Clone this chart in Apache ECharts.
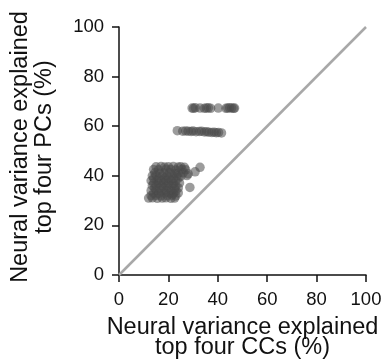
<!DOCTYPE html>
<html>
<head>
<meta charset="utf-8">
<script src="https://cdn.jsdelivr.net/npm/echarts@6/dist/echarts.min.js"></script>
<style>html,body{margin:0;padding:0;background:#fff}#c{width:383px;height:363px}</style>
</head>
<body>
<div id="c"></div>
<script>
// Axis ticks
var xTicks = [0, 20, 40, 60, 80, 100];
var yTicks = [0, 20, 40, 60, 80, 100];
var xName = 'Neural variance explained\ntop four CCs (%)';
var yName = 'Neural variance explained\ntop four PCs (%)';

// Main cluster (CC %, PC %)
var clusterX = [15,17,18.5,20,22,24,25,26.5, 14,16,19,21,23,25.5,27, 14.5,16.5,18,20.5,22.5,24,26,28,30.8,
  13.5,15,17.5,19.5,21.5,23.5,25,27.5, 14,16,18.5,20,22,24, 13,15.5,17,19,21,23,
  14,16,18,20,22,24.5, 13.5,15,17.5,19.5,21.5,23, 14.5,16.5,18,20,22.5,24,
  13,15,17,19,21,23, 14,16,18.5,20.5,22,24, 13,15,17,19.5,21.5,23,
  12,13.5,15.5,17.5,19,21,22.5, 32.8,28.7];
var clusterY = [43.6,43.7,43.5,43.6,43.7,43.5,43.6,43.4, 42.5,42.4,42.6,42.5,42.3,42.5,42.4, 41.2,41,41.1,41.2,40.9,41,41.2,40.8,41.6,
  40,40.1,39.9,40,40.2,40,39.8,40.1, 39,38.9,39.1,39,38.8,39.1, 38,38.1,37.9,38,38.2,37.9,
  37,36.9,37.1,37,36.8,37.1, 36,36.1,35.9,36,36.2,35.9, 35,34.9,35.1,35,34.8,35.1,
  34,34.1,33.9,34,34.2,33.9, 33,32.9,33.1,33,32.8,33.1, 32,32.1,31.9,32,32.2,31.9,
  31,31.1,30.9,31,31.1,30.9,31, 43.4,35.3];

// Row near 58 %
var rowMidX = [23.6,25.8,27.0,28.0,29.2,30.0,31.2,32.5,33.4,34.6,35.5,36.4,37.6,38.5,39.4,40.3,41.5];
var rowMidY = [58.2,58.0,58.1,58.0,57.9,58.1,57.8,57.9,58.0,57.7,57.8,57.6,57.5,57.6,57.4,57.5,57.3];

// Row near 67 %
var rowTopX = [29.6,30.2,30.9,32.8,34.6,35.4,36.2,37.1,40.2,43.3,44.0,44.8,45.6,46.4,46.8];
var rowTopY = [67.3,67.2,67.4,67.3,67.2,67.3,67.4,67.2,67.3,67.2,67.3,67.4,67.3,67.2,67.3];

// Identity line
var diagX = [0, 100];
var diagY = [0, 100];

function pairs(xs, ys){ return xs.map(function(v,i){ return [v, ys[i]]; }); }
var points = pairs(clusterX, clusterY).concat(pairs(rowMidX, rowMidY), pairs(rowTopX, rowTopY));

var font = 'Liberation Sans, Arial, Helvetica, sans-serif';
var axisCommon = {
  type: 'value', min: 0, max: 100, interval: 20,
  axisLine: { show: true, lineStyle: { color: '#111', width: 1.5 } },
  axisTick: { show: true, length: 7, lineStyle: { color: '#111', width: 1.5 } },
  splitLine: { show: false },
  axisLabel: { color: '#111', fontSize: 18.5, fontFamily: font, margin: 14 },
  nameLocation: 'middle'
};

var chart = echarts.init(document.getElementById('c'), null, { renderer: 'canvas' });
chart.setOption({
  animation: false,
  grid: { left: 119, right: 17, top: 27, bottom: 88, containLabel: false, outerBoundsMode: 'none' },
  xAxis: Object.assign({}, axisCommon, {
    name: xName, nameGap: 43,
    nameTextStyle: { color: '#111', fontSize: 23.5, fontFamily: font, lineHeight: 20 },
    axisLabel: Object.assign({}, axisCommon.axisLabel, { margin: 15, formatter: function(v){ return xTicks.indexOf(v) >= 0 ? String(v) : ''; } })
  }),
  yAxis: Object.assign({}, axisCommon, {
    name: yName, nameGap: 62,
    nameTextStyle: { color: '#111', fontSize: 23.5, fontFamily: font, lineHeight: 24, padding: [0, 0, 0, 8] },
    axisLabel: Object.assign({}, axisCommon.axisLabel, { margin: 15, formatter: function(v){ return yTicks.indexOf(v) >= 0 ? String(v) : ''; } })
  }),
  series: [
    { type: 'line', data: pairs(diagX, diagY), symbol: 'none', silent: true, z: 1,
      lineStyle: { color: '#a8a8a8', width: 2.5 } },
    { type: 'scatter', data: points, symbolSize: 9.5, z: 2,
      itemStyle: { color: '#4a4a4a', opacity: 0.55 } }
  ]
});
</script>
</body>
</html>
